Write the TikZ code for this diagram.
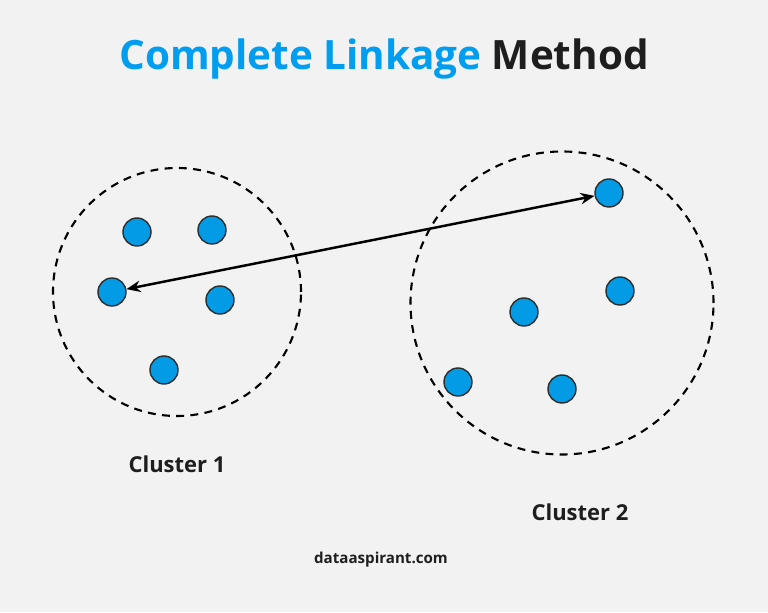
\documentclass[tikz,border=0pt]{standalone}
\usepackage{fontspec}
\setmainfont{Open Sans}
\usepackage{tikz}
\usetikzlibrary{arrows.meta}
\definecolor{bgcol}{RGB}{242,242,242}
\definecolor{titleblue}{RGB}{0,157,240}
\definecolor{dotblue}{RGB}{3,155,229}
\definecolor{dotedge}{RGB}{45,45,45}
\definecolor{txtcol}{RGB}{30,30,30}
\begin{document}
\begin{tikzpicture}[line cap=round,line join=round,>=Stealth,x=1.0cm,y=1.0cm,
  datapt/.style={circle,fill=dotblue,draw=dotedge,line width=0.8pt,minimum size=0.56cm,inner sep=0pt},
  cluster/.style={draw=black,line width=1.2pt,line cap=butt,dash pattern=on 4.5pt off 3.6pt},
  lbl/.style={font=\bfseries\fontsize{12.5}{15}\selectfont,text=txtcol}]
\fill[bgcol] (0,0) rectangle (15.36,12.24);
\useasboundingbox (0,0) rectangle (15.36,12.24);
% title
\node (title) at (7.68,11.06) {\bfseries\fontsize{23}{28}\selectfont\textcolor{titleblue}{Complete Linkage} \textcolor{txtcol}{Method}};
% clusters
\draw[cluster] (3.54,6.40) circle (2.48);
\draw[cluster] (11.24,6.18) circle (3.03);
% points of cluster 1
\node[datapt] (a1) at (2.74,7.60) {};
\node[datapt] (a2) at (4.24,7.64) {};
\node[datapt] (a3) at (2.24,6.40) {};
\node[datapt] (a4) at (4.40,6.24) {};
\node[datapt] (a5) at (3.28,4.84) {};
% points of cluster 2
\node[datapt] (b1) at (12.18,8.38) {};
\node[datapt] (b2) at (12.40,6.42) {};
\node[datapt] (b3) at (10.48,6.00) {};
\node[datapt] (b4) at (9.16,4.60) {};
\node[datapt] (b5) at (11.24,4.46) {};
% farthest pair
\draw [line width=1.4pt,{Stealth[length=8pt,width=6.5pt]}-{Stealth[length=8pt,width=6.5pt]}] (a3) -- (b1);
% labels
\node[lbl] (lab1) at (3.54,2.96) {Cluster 1};
\node[lbl] (lab2) at (11.60,2.00) {Cluster 2};
\node[font=\bfseries\fontsize{8.6}{10}\selectfont,text=txtcol] (site) at (7.62,1.04) {dataaspirant.com};
\end{tikzpicture}
\end{document}
